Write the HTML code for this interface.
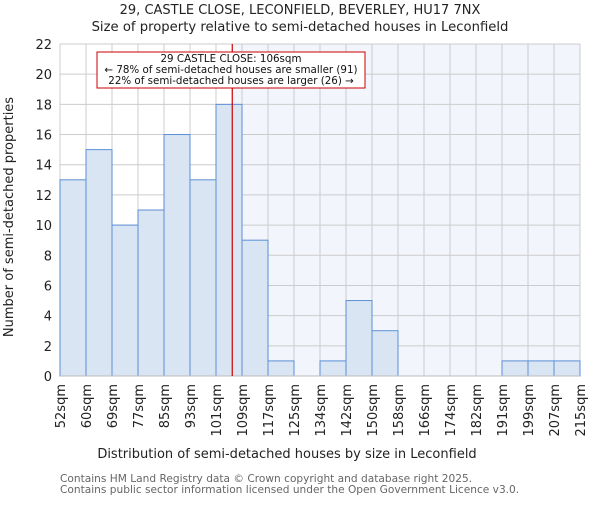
<!DOCTYPE html>
<html><head><meta charset="utf-8"><style>body{margin:0;background:#fff}svg{font-family:"DejaVu Sans","Liberation Sans",sans-serif}</style></head>
<body>
<svg id="c" width="600" height="500" xmlns="http://www.w3.org/2000/svg"></svg>
<script>
const binLabels=["52sqm","60sqm","69sqm","77sqm","85sqm","93sqm","101sqm","109sqm","117sqm","125sqm","134sqm","142sqm","150sqm","158sqm","166sqm","174sqm","182sqm","191sqm","199sqm","207sqm","215sqm"];
const counts=[13,15,10,11,16,13,18,9,1,0,1,5,3,0,0,0,0,1,1,1];
const yTicks=[0,2,4,6,8,10,12,14,16,18,20,22];
const markerValue=106;
const markerBinStart=101, markerBinEnd=109, markerBinIndex=6;
const svg=document.getElementById('c');const NS="http://www.w3.org/2000/svg";
const L=60,R=580,T=44,B=376,yMax=22;
const bw=(R-L)/counts.length;
const x=i=>L+i*bw;const y=v=>B-(B-T)*v/yMax;
function mk(t,a,p){const e=document.createElementNS(NS,t);for(const k in a)e.setAttribute(k,a[k]);(p||svg).appendChild(e);return e;}
const mx=x(markerBinIndex)+bw*(markerValue-markerBinStart)/(markerBinEnd-markerBinStart);
let e=mk('rect',{x:mx,y:T,width:R-mx,height:B-T,fill:'#f2f5fc'});


for(let i=0;i<=counts.length;i++){e=mk('line',{x1:x(i),x2:x(i),y1:T,y2:B,stroke:'#cccccc'});

}
yTicks.forEach(v=>{e=mk('line',{x1:L,x2:R,y1:y(v),y2:y(v),stroke:'#cccccc'});


e=mk('text',{x:L-8,y:y(v)+5,'text-anchor':'end','font-size':13,fill:'#222'});e.textContent=v;

});
counts.forEach((v,i)=>{if(v<=0)return;e=mk('rect',{x:x(i),y:y(v),width:bw,height:B-y(v),fill:'#dae5f4',stroke:'#5b8fd6','stroke-width':1});

});
e=mk('line',{x1:L,x2:R,y1:B,y2:B,stroke:'#bbbbbb'});


binLabels.forEach((s,i)=>{const tx=x(i)+5,ty=384;e=mk('text',{x:tx,y:ty,'text-anchor':'end','font-size':13,fill:'#222',transform:`rotate(-90 ${tx} ${ty})`});e.textContent=s;

});
e=mk('line',{x1:mx,x2:mx,y1:T,y2:B,stroke:'#cc0000','stroke-width':1.2});


const g=mk('g',{});
mk('rect',{x:97,y:52,width:268,height:36,fill:'#fff',stroke:'#cc0000'},g);
[["29 CASTLE CLOSE: 106sqm",62],["← 78% of semi-detached houses are smaller (91)",73],["22% of semi-detached houses are larger (26) →",84]].forEach(([t,yy])=>{const q=mk('text',{x:231,y:yy,'text-anchor':'middle','font-size':10.3,fill:'#111'},g);q.textContent=t;});
function txt(t,a,name){const q=mk('text',a);q.textContent=t;}
txt("29, CASTLE CLOSE, LECONFIELD, BEVERLEY, HU17 7NX",{x:300,y:14,'text-anchor':'middle','font-size':13,fill:'#222'},'chart-title');
txt("Size of property relative to semi-detached houses in Leconfield",{x:300,y:31,'text-anchor':'middle','font-size':13.2,fill:'#222'},'chart-subtitle');
txt("Distribution of semi-detached houses by size in Leconfield",{x:287,y:458,'text-anchor':'middle','font-size':13,fill:'#222'},'x-axis-title');
txt("Number of semi-detached properties",{x:13,y:217,'text-anchor':'middle','font-size':13,fill:'#222',transform:'rotate(-90 13 217)'},'y-axis-title');
txt("Contains HM Land Registry data © Crown copyright and database right 2025.",{x:60,y:482,'font-size':10.6,fill:'#666'},'footer-line-1');
txt("Contains public sector information licensed under the Open Government Licence v3.0.",{x:60,y:493,'font-size':10.6,fill:'#666'},'footer-line-2');
</script>
</body></html>
